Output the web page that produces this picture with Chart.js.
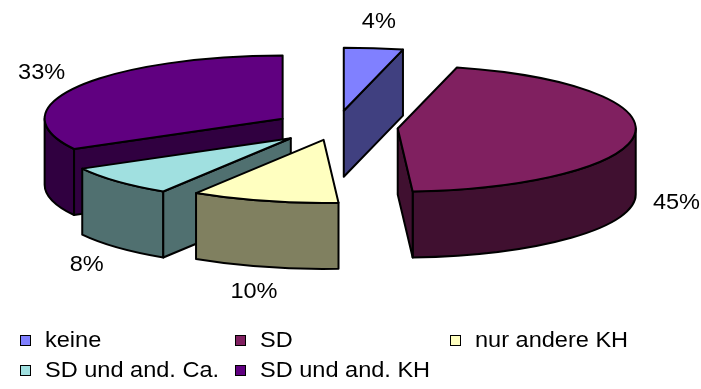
<!DOCTYPE html>
<html>
<head>
<meta charset="utf-8">
<script src="https://cdn.jsdelivr.net/npm/chart.js@4/dist/chart.umd.min.js"></script>
<style>
  html, body { margin: 0; padding: 0; background: #ffffff; }
  #wrap { width: 701px; height: 389px; position: relative; }
</style>
</head>
<body>
<div id="wrap"><canvas id="chart" width="701" height="389"></canvas></div>
<script>
// Categories and their shares in percent
const categories = ['keine', 'SD', 'nur andere KH', 'SD und and. Ca.', 'SD und and. KH'];
const shares = [4, 45, 10, 8, 33];

// Top faces and the darker walls of each slice
const topColors  = ['#8080ff', '#802060', '#ffffc0', '#a0e0e0', '#600080'];
const sideColors = ['#404080', '#401030', '#808060', '#507070', '#300040'];

const TILT = 0.265;      // vertical squash of the pie disc
const DEPTH = 66;        // thickness of the extruded disc in px
const FONT = '22px "Liberation Sans", Arial, sans-serif';
const STRETCH = 1.07;    // slightly wide lettering

function drawText(ctx, text, x, y, align, baseline) {
  ctx.save();
  ctx.translate(x, y);
  ctx.scale(STRETCH, 1);
  ctx.font = FONT;
  ctx.fillStyle = '#000000';
  ctx.textAlign = align;
  ctx.textBaseline = baseline;
  ctx.fillText(text, 0, 0);
  ctx.restore();
}

function pt(s, t, dy) {
  return [s.cx + s.rx * Math.cos(t), s.cy + s.ry * Math.sin(t) + dy];
}

function shape(ctx, fill) {
  ctx.fillStyle = fill;
  ctx.fill();
  ctx.stroke();
}

// Draws the pie arcs as an exploded, extruded 3D pie
const pie3d = {
  id: 'pie3d',
  beforeDatasetsDraw(chart) {
    const ctx = chart.ctx;
    const meta = chart.getDatasetMeta(0);
    const slices = meta.data.map((arc, i) => {
      const p = arc.getProps(['x', 'y', 'startAngle', 'endAngle', 'outerRadius'], true);
      const mid = (p.startAngle + p.endAngle) / 2;
      const off = arc.options.offset || 0;
      return {
        i, mid,
        s: p.startAngle, e: p.endAngle,
        cx: p.x + Math.cos(mid) * off,
        cy: p.y + Math.sin(mid) * off * TILT,
        rx: p.outerRadius,
        ry: p.outerRadius * TILT,
        top: arc.options.backgroundColor,
        side: sideColors[i]
      };
    });

    ctx.save();
    ctx.lineWidth = 2;
    ctx.lineJoin = 'round';
    ctx.strokeStyle = '#000000';

    // paint from the back of the disc to the front
    const order = slices.slice().sort((a, b) =>
      (a.cy + Math.sin(a.mid) * a.ry * 0.5) - (b.cy + Math.sin(b.mid) * b.ry * 0.5));

    order.forEach(s => {
      // curved outer wall, front half only
      const a = Math.max(s.s, 0), b = Math.min(s.e, Math.PI);
      if (b > a) {
        ctx.beginPath();
        const p0 = pt(s, a, 0);
        ctx.moveTo(p0[0], p0[1]);
        ctx.ellipse(s.cx, s.cy, s.rx, s.ry, 0, a, b, false);
        const p1 = pt(s, b, DEPTH);
        ctx.lineTo(p1[0], p1[1]);
        ctx.ellipse(s.cx, s.cy + DEPTH, s.rx, s.ry, 0, b, a, true);
        ctx.closePath();
        shape(ctx, s.side);
      }
      // radial cut faces
      [[s.s, Math.cos(s.s) < -1e-9], [s.e, Math.cos(s.e) > 1e-9]].forEach(([t, vis]) => {
        if (!vis) return;
        const q0 = pt(s, t, 0), q1 = pt(s, t, DEPTH);
        ctx.beginPath();
        ctx.moveTo(s.cx, s.cy);
        ctx.lineTo(q0[0], q0[1]);
        ctx.lineTo(q1[0], q1[1]);
        ctx.lineTo(s.cx, s.cy + DEPTH);
        ctx.closePath();
        shape(ctx, s.side);
      });
      // top face
      ctx.beginPath();
      ctx.moveTo(s.cx, s.cy);
      ctx.ellipse(s.cx, s.cy, s.rx, s.ry, 0, s.s, s.e, false);
      ctx.closePath();
      shape(ctx, s.top);
    });
    ctx.restore();

    // percentage labels outside each slice
    const values = chart.data.datasets[0].data;
    slices.forEach(s => {
      const c = Math.cos(s.mid), d = Math.sin(s.mid);
      const x = s.cx + (s.rx + 42) * c;
      const y = s.cy + (s.ry + 26) * d + (d > 0 ? DEPTH : 0);
      drawText(ctx, values[s.i] + '%', x, y, 'center', 'middle');
    });
    return false;
  },
  afterDraw(chart) {
    // legend grid: three columns
    const ctx = chart.ctx;
    const labels = chart.data.labels;
    const colors = chart.data.datasets[0].backgroundColor;
    labels.forEach((lab, i) => {
      const col = i % 3, row = Math.floor(i / 3);
      const bx = 20 + col * 215, by = 335 + row * 30;
      ctx.save();
      ctx.fillStyle = colors[i];
      ctx.strokeStyle = '#000000';
      ctx.lineWidth = 1;
      ctx.fillRect(bx, by, 10, 10);
      ctx.strokeRect(bx + 0.5, by + 0.5, 10, 10);
      ctx.restore();
      drawText(ctx, lab, bx + 25, by + 12, 'left', 'alphabetic');
    });
  }
};

new Chart(document.getElementById('chart'), {
  type: 'pie',
  data: {
    labels: categories,
    datasets: [{
      data: shares,
      backgroundColor: topColors,
      borderColor: '#000000',
      borderWidth: 2,
      offset: [62, 62, 50, 62, 62]
    }]
  },
  options: {
    responsive: false,
    animation: false,
    events: [],
    radius: 238,
    layout: { padding: { left: 0, right: 29, top: 0, bottom: 135 } },
    plugins: {
      legend: { display: false },
      tooltip: { enabled: false }
    }
  },
  plugins: [pie3d]
});
</script>
</body>
</html>
